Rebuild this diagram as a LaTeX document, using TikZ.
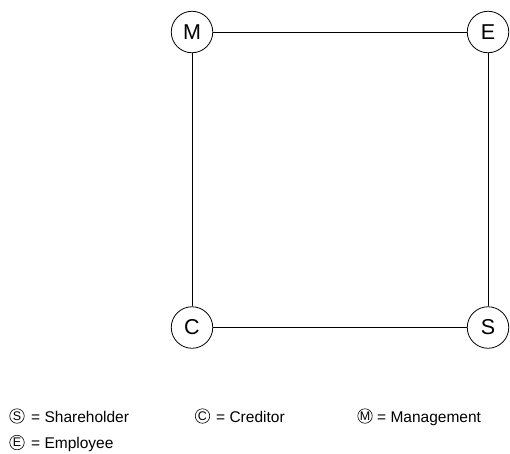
\documentclass[tikz,border=0pt]{standalone}
\usepackage{fontspec}
\setmainfont{Liberation Sans}
\begin{document}
\begin{tikzpicture}[x=1pt,y=-1pt,
  party/.style={draw,circle,line width=0.8pt,minimum size=41.5pt,inner sep=0pt,font=\fontsize{21.5}{21.5}\selectfont},
  link/.style={line width=0.8pt},
  mini/.style={draw,circle,line width=0.6pt,minimum size=14.5pt,inner sep=0pt,font=\fontsize{12.5}{12.5}\selectfont},
  legtext/.style={anchor=base west,inner sep=0pt,font=\fontsize{15.5}{15.5}\selectfont}]
\useasboundingbox (0,0) rectangle (510,453);
\node[party] (M) at (192,32) {M};
\node[party] (E) at (488,32) {E};
\node[party] (C) at (192,327.5) {C};
\node[party] (S) at (488,327.5) {S};
\draw[link] (M) -- (E);
\draw[link] (M) -- (C);
\draw[link] (C) -- (S);
\draw[link] (E) -- (S);
% legend
\node[mini] (lS) at (17,416) {S};
\node[legtext] (tS) at (31,422.5) {= Shareholder};
\node[mini] (lC) at (202.5,416) {C};
\node[legtext] (tC) at (216,422.5) {= Creditor};
\node[mini] (lM) at (365,416) {M};
\node[legtext] (tM) at (377,422.5) {= Management};
\node[mini] (lE) at (17,442.5) {E};
\node[legtext] (tE) at (31,448.5) {= Employee};
\end{tikzpicture}
\end{document}
